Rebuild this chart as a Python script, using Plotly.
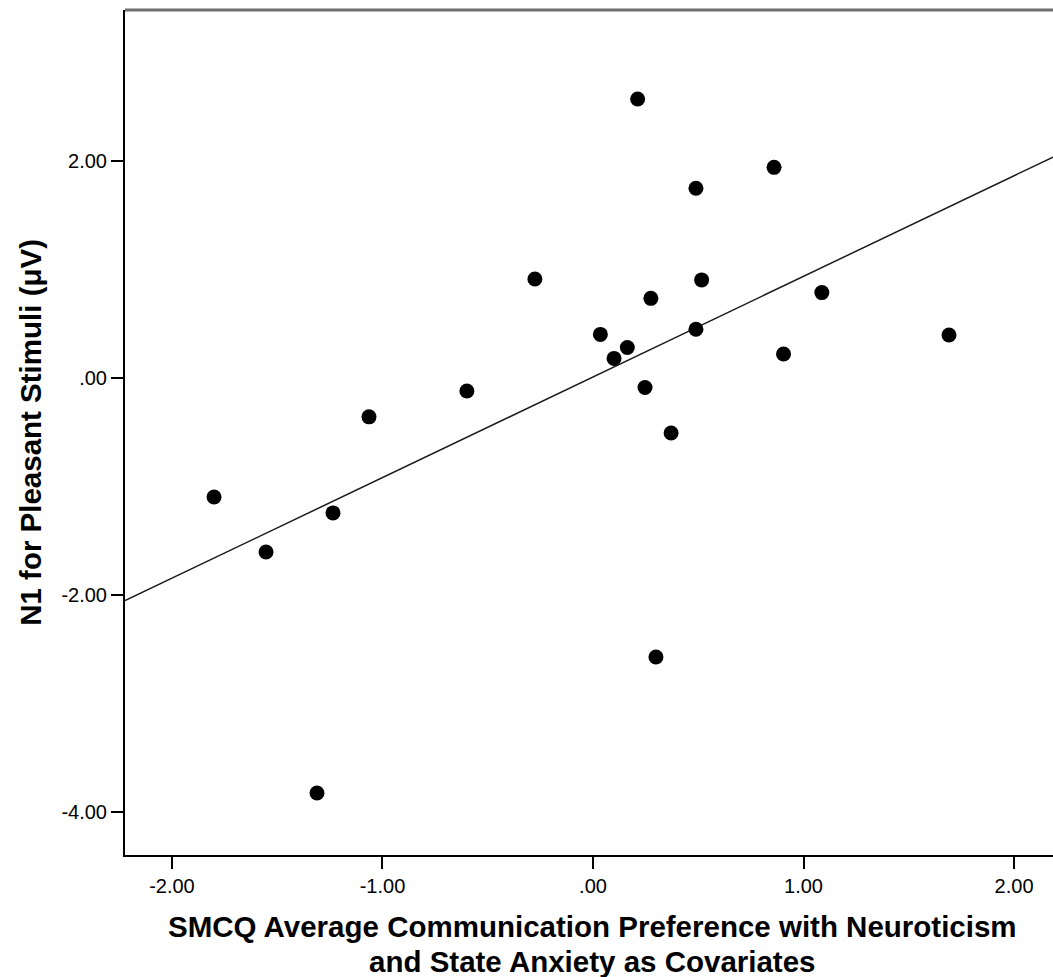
import numpy as np
import plotly.graph_objects as go

x_vals = [-1.800, -1.553, -1.235, -1.311, -1.064, -0.599, -0.276, 0.035, 0.100,
          0.163, 0.212, 0.247, 0.275, 0.299, 0.371, 0.489, 0.489, 0.516, 0.860,
          0.905, 1.087, 1.691]
y_vals = [-1.097, -1.604, -1.244, -3.825, -0.359, -0.120, 0.912, 0.401, 0.180,
          0.280, 2.570, -0.089, 0.733, -2.571, -0.507, 0.449, 1.747, 0.903, 1.940,
          0.221, 0.786, 0.396]

x_ticks = [-2, -1, 0, 1, 2]
x_tick_text = ["-2.00", "-1.00", ".00", "1.00", "2.00"]
y_ticks = [-4, -2, 0, 2]
y_tick_text = ["-4.00", "-2.00", ".00", "2.00"]

x_range = [-2.223, 2.185]
y_range = [-4.396, 3.39]

slope, intercept = np.polyfit(x_vals, y_vals, 1)
line_x = np.array(x_range)
line_y = slope * line_x + intercept

fig = go.Figure()
fig.add_trace(go.Scatter(x=line_x, y=line_y, mode="lines",
                         line=dict(color="#1a1a1a", width=1.5), showlegend=False,
                         hoverinfo="skip"))
fig.add_trace(go.Scatter(x=x_vals, y=y_vals, mode="markers",
                         marker=dict(color="black", size=15, line=dict(width=0)),
                         showlegend=False))

font_family = "Liberation Sans, Arial, sans-serif"
fig.update_layout(
    width=1053, height=977,
    margin=dict(l=125, r=0, t=10, b=122),
    plot_bgcolor="white", paper_bgcolor="white",
    font=dict(family=font_family, color="black"),
    xaxis=dict(range=x_range, tickvals=x_ticks, ticktext=x_tick_text,
               showgrid=False, zeroline=False, showline=True, linecolor="black",
               linewidth=2, ticks="outside", ticklen=12, tickwidth=2,
               tickcolor="black", tickfont=dict(size=20, family=font_family)),
    yaxis=dict(range=y_range, tickvals=y_ticks, ticktext=y_tick_text,
               showgrid=False, zeroline=False, showline=True, linecolor="black",
               linewidth=2, ticks="outside", ticklen=12, tickwidth=2,
               tickcolor="black", tickfont=dict(size=20, family=font_family)),
    shapes=[dict(type="line", xref="paper", yref="paper", x0=0, x1=1, y0=1, y1=1,
                 line=dict(color="#6e6e6e", width=3))],
    annotations=[
        dict(text="<b>SMCQ Average Communication Preference with Neuroticism</b>",
             xref="paper", yref="paper", x=0.504, y=-0.0845, yanchor="middle",
             showarrow=False, font=dict(size=29.5, family=font_family)),
        dict(text="<b>and State Anxiety as Covariates</b>",
             xref="paper", yref="paper", x=0.504, y=-0.1255, yanchor="middle",
             showarrow=False, font=dict(size=29.5, family=font_family)),
        dict(text="<b>N1 for Pleasant Stimuli (μV)</b>", textangle=-90,
             xref="paper", yref="paper", x=-0.102, y=0.5, xanchor="center",
             yanchor="middle", showarrow=False, font=dict(size=29.5, family=font_family)),
    ],
)
fig.write_html("out.html")
